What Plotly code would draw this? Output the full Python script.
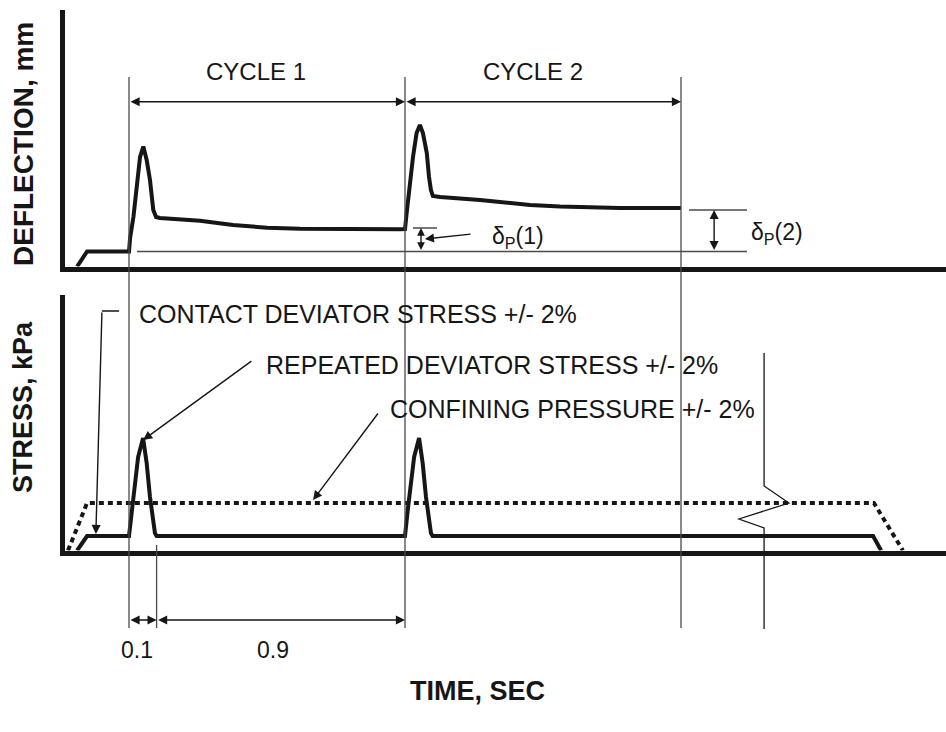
import plotly.graph_objects as go

# ---- deflection record (time in s, deflection in mm) ----
defl_time = [-0.188, -0.152, 0.000, 0.004, 0.016, 0.028, 0.040, 0.052, 0.064,
             0.076, 0.083, 0.088, 0.098, 0.112, 0.257, 0.377, 0.500, 0.620,
             0.982, 1.000, 1.006, 1.018, 1.029, 1.042, 1.054, 1.065, 1.079,
             1.087, 1.094, 1.101, 1.127, 1.272, 1.453, 1.562, 1.779, 2.000]
defl_value = [0.000, 0.150, 0.150, 0.285, 0.495, 0.795, 1.095, 1.200, 1.065,
              0.865, 0.695, 0.565, 0.495, 0.485, 0.458, 0.415, 0.388, 0.378,
              0.372, 0.375, 0.535, 0.835, 1.095, 1.335, 1.415, 1.335, 1.135,
              0.895, 0.765, 0.705, 0.695, 0.665, 0.615, 0.600, 0.585, 0.585]

# ---- deviator stress (contact + repeated haversine-like pulses), kPa ----
stress_time = [-0.188, -0.152, 0.000, 0.010, 0.022, 0.033, 0.051, 0.064, 0.076,
               0.094, 0.100, 1.000, 1.010, 1.022, 1.033, 1.051, 1.064, 1.076,
               1.094, 1.100, 2.696, 2.725]
stress_value = [0.000, 0.145, 0.145, 0.405, 0.705, 0.935, 1.125, 0.875, 0.535,
                0.175, 0.145, 0.145, 0.405, 0.705, 0.935, 1.125, 0.875, 0.535,
                0.175, 0.145, 0.145, 0.000]

# ---- confining pressure, kPa ----
conf_time = [-0.221, -0.152, 2.699, 2.804]
conf_value = [0.000, 0.475, 0.475, 0.000]

# permanent-deformation reference levels
delta_base = 0.15
delta_p1 = 0.385
delta_p2 = 0.565

# cycle boundaries (s)
cycle_marks = [0.0, 1.0, 2.0]
pulse_len = 0.1

INK = "#161616"
THIN = "#4a4a4a"
FONT = "Liberation Sans, Arial, Helvetica, sans-serif"

W, H = 946, 732


def py(px):
    """figure pixel row -> paper fraction"""
    return 1 - px / H


fig = go.Figure()

fig.add_trace(go.Scatter(x=defl_time, y=defl_value, mode="lines",
                         line=dict(color=INK, width=4), xaxis="x", yaxis="y",
                         hoverinfo="skip"))
fig.add_trace(go.Scatter(x=conf_time, y=conf_value, mode="lines",
                         line=dict(color=INK, width=4, dash="5px,4px"),
                         xaxis="x2", yaxis="y2", hoverinfo="skip"))
fig.add_trace(go.Scatter(x=stress_time, y=stress_value, mode="lines",
                         line=dict(color=INK, width=4), xaxis="x2", yaxis="y2",
                         hoverinfo="skip"))

# time axis: 1 s spans 276 px, t=0 at x=129 px
left_px = 64.5
t_left = (left_px - 129) / 276
t_right = (W - 129) / 276

axis_common = dict(showgrid=False, zeroline=False, showticklabels=False,
                   ticks="", showline=True, linecolor=INK, linewidth=5,
                   fixedrange=True)

fig.update_layout(
    width=W, height=H,
    margin=dict(l=0, r=0, t=0, b=0),
    paper_bgcolor="white", plot_bgcolor="white",
    showlegend=False, hovermode=False,
    xaxis=dict(domain=[left_px / W, 1], range=[t_left, t_right], anchor="y",
               **axis_common),
    yaxis=dict(domain=[py(266.5), py(10)], range=[0, 2.565], anchor="x",
               **axis_common),
    xaxis2=dict(domain=[left_px / W, 1], range=[t_left, t_right], anchor="y2",
                matches="x", **axis_common),
    yaxis2=dict(domain=[py(550.5), py(295)], range=[0, 2.555], anchor="x2",
                **axis_common),
)

# ---- thin guide lines ----
def vline(t, top, bottom):
    fig.add_shape(type="line", xref="x", yref="paper", x0=t, x1=t,
                  y0=py(top), y1=py(bottom), line=dict(color=THIN, width=1.3),
                  layer="above")


for t in cycle_marks:
    vline(t, 77, 628)
vline(pulse_len, 545, 628)

# break symbol in the time axis
fig.add_shape(type="path", xref="x", yref="paper",
              path=(f"M 2.301,{py(353)} L 2.301,{py(486)} L 2.391,{py(503)} "
                    f"L 2.210,{py(519)} L 2.301,{py(528)} L 2.301,{py(629)}"),
              line=dict(color=INK, width=1.3), layer="above")

def hline(x0, x1, y, xref="x", yref="y", color=THIN):
    fig.add_shape(type="line", xref=xref, yref=yref, x0=x0, x1=x1, y0=y, y1=y,
                  line=dict(color=color, width=1.3), layer="above")


hline(0.029, 2.239, delta_base)
hline(1.029, 1.116, delta_p1)
hline(2.029, 2.239, delta_p2)
# bracket of the contact-stress leader
hline(-0.098, -0.036, 2.395, xref="x2", yref="y2", color=INK)


# ---- arrows ----
def arrow(x, y, ax, ay, xref="x", yref="y", axref=None, ayref=None,
          both=False, size=1.3):
    fig.add_annotation(x=x, y=y, ax=ax, ay=ay, xref=xref, yref=yref,
                       axref=axref or xref, ayref=ayref or yref,
                       text="", showarrow=True, arrowhead=2, startarrowhead=2,
                       arrowside="end+start" if both else "end",
                       arrowsize=size, startarrowsize=size, arrowwidth=1.4,
                       arrowcolor=INK, standoff=0, startstandoff=0)


# cycle spans
arrow(1.0, py(101.7), 0.0, 0, yref="paper", ayref="pixel", both=True)
arrow(2.0, py(101.7), 1.0, 0, yref="paper", ayref="pixel", both=True)
# pulse / rest spans
arrow(pulse_len, py(620), 0.0, 0, yref="paper", ayref="pixel", both=True)
arrow(1.0, py(620), pulse_len, 0, yref="paper", ayref="pixel", both=True)
# permanent deformation spans
arrow(1.058, delta_p1, 1.058, delta_base, both=True, size=1.1)
arrow(2.120, delta_p2, 2.120, delta_base, both=True)
arrow(1.072, 0.275, 1.243, 0.325)

# stress leaders
arrow(-0.120, 0.165, -0.098, 2.395, xref="x2", yref="y2")
arrow(0.051, 1.105, 0.449, 1.905, xref="x2", yref="y2")
arrow(0.667, 0.505, 0.906, 1.385, xref="x2", yref="y2")


# ---- text ----
def label(x, y, text, xref="x", yref="y", xanchor="left", size=24, bold=False,
          angle=0):
    fig.add_annotation(x=x, y=y, xref=xref, yref=yref, text=text,
                       showarrow=False, xanchor=xanchor, yanchor="middle",
                       textangle=angle,
                       font=dict(family=FONT, size=size, color=INK,
                                 weight="bold" if bold else "normal"))


label(0.46, 1.955, "CYCLE 1", xanchor="center")
label(1.464, 1.955, "CYCLE 2", xanchor="center")
label(1.308, 0.295, "δ<sub>P</sub>(1)", size=23)
label(2.246, 0.335, "δ<sub>P</sub>(2)", size=23)

label(0.030, 2.365, "CONTACT DEVIATOR STRESS +/- 2%", xref="x2", yref="y2",
      size=25)
label(0.490, 1.855, "REPEATED DEVIATOR STRESS +/- 2%", xref="x2", yref="y2",
      size=25)
label(0.940, 1.415, "CONFINING PRESSURE +/- 2%", xref="x2", yref="y2",
      size=25)

label(0.029, py(650), "0.1", yref="paper", xanchor="center", size=23)
label(0.522, py(650), "0.9", yref="paper", xanchor="center", size=23)

label(477 / W, py(691), "TIME, SEC", xref="paper", yref="paper",
      xanchor="center", size=27, bold=True)
label(23 / W, py(144), "DEFLECTION, mm", xref="paper", yref="paper",
      xanchor="center", size=28, bold=True, angle=-90)
label(23 / W, py(407), "STRESS, kPa", xref="paper", yref="paper",
      xanchor="center", size=27, bold=True, angle=-90)

fig.write_html("out.html")
